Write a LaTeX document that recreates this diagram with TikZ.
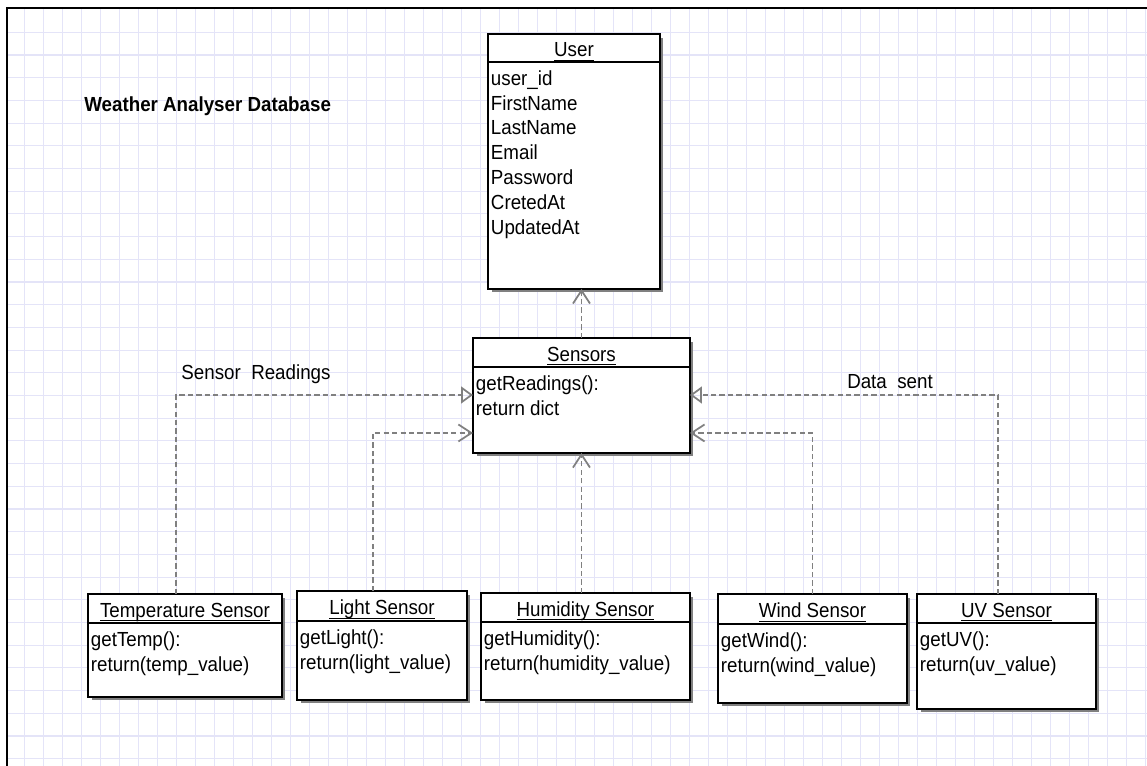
\documentclass[tikz,border=0pt]{standalone}
\usepackage{amsmath}
\usepackage{fontspec}
\setmainfont{Liberation Sans}[FakeStretch=0.92]
\usetikzlibrary{arrows.meta,positioning,calc,shadows}
\definecolor{GridLav}{HTML}{E4E4F8}
\definecolor{LinkGray}{HTML}{808080}
\newcommand{\diafont}{\fontsize{11.6}{14.2}\selectfont}
\newcommand{\clsname}[1]{\underline{\smash[b]{#1}}}
\tikzset{
  hdr/.style={draw=black, line width=1.2pt, fill=white, anchor=north west, inner sep=0pt, outer sep=0pt,
    text height=0.36cm, text depth=0pt, font=\diafont,
    general shadow={fill=black!50, shadow xshift=2pt, shadow yshift=-2pt}},
  bodybox/.style={draw=black, line width=1.2pt, fill=white, inner sep=0pt, outer sep=0pt,
    general shadow={fill=black!50, shadow xshift=2pt, shadow yshift=-2pt}},
  attrs/.style={anchor=north west, align=left, inner xsep=1.5pt, inner ysep=3pt, font=\diafont},
  lbl/.style={font=\diafont, inner sep=0pt},
  gridline/.style={draw=GridLav, line width=0.6pt},
  depends/.style={draw=LinkGray, line width=1pt, dash pattern=on 3pt off 1.8pt, -{Straight Barb[length=2.6mm, width=3.4mm]}},
  realizes/.style={draw=LinkGray, line width=1pt, dash pattern=on 3pt off 1.8pt, -{Triangle[open, length=2.4mm, width=3.4mm]}}
}

\begin{document}
\begin{tikzpicture}[x=0.02cm, y=-0.02cm]
\useasboundingbox (0,0) rectangle (1147,766);
\fill[white] (0,0) rectangle (1147,766);
% grid paper
\foreach \gx in {24.3,43.3,...,1147} \draw[gridline] (\gx,8) -- (\gx,766);
\foreach \gy in {32.3,55,...,766} \draw[gridline] (7,\gy) -- (1147,\gy);
\draw[line width=1.2pt] (7,766) -- (7,8) -- (1147,8);

\node[font=\diafont\bfseries, anchor=west, inner sep=0pt] (title) at (84,106) {Weather Analyser Database};

% user table
\node[hdr, minimum width=3.44cm, minimum height=0.56cm] (user) at (488,34) {\clsname{User}};
\node[bodybox, minimum width=3.44cm, minimum height=4.54cm, below=0pt of user,
  label={[attrs]north west:\strut user\_id\\FirstName\\LastName\\Email\\Password\\CretedAt\\UpdatedAt}] (userattr) {};

% sensors base class
\node[hdr, minimum width=4.34cm, minimum height=0.58cm] (sens) at (473,338) {\clsname{Sensors}};
\node[bodybox, minimum width=4.34cm, minimum height=1.72cm, below=0pt of sens,
  label={[attrs]north west:\strut getReadings():\\return dict}] (sensattr) {};

% the sensors
\node[hdr, minimum width=3.88cm, minimum height=0.58cm] (temp) at (88,594) {\clsname{Temperature Sensor}};
\node[bodybox, minimum width=3.88cm, minimum height=1.48cm, below=0pt of temp,
  label={[attrs]north west:\strut getTemp():\\return(temp\_value)}] (tempattr) {};

\node[hdr, minimum width=3.40cm, minimum height=0.60cm] (light) at (297,591) {\clsname{Light Sensor}};
\node[bodybox, minimum width=3.40cm, minimum height=1.58cm, below=0pt of light,
  label={[attrs]north west:\strut getLight():\\return(light\_value)}] (lightattr) {};

\node[hdr, minimum width=4.18cm, minimum height=0.58cm] (hum) at (481,593) {\clsname{Humidity Sensor}};
\node[bodybox, minimum width=4.18cm, minimum height=1.56cm, below=0pt of hum,
  label={[attrs]north west:\strut getHumidity():\\return(humidity\_value)}] (humattr) {};

\node[hdr, minimum width=3.78cm, minimum height=0.60cm] (wind) at (718,594) {\clsname{Wind Sensor}};
\node[bodybox, minimum width=3.78cm, minimum height=1.58cm, below=0pt of wind,
  label={[attrs]north west:\strut getWind():\\return(wind\_value)}] (windattr) {};

\node[hdr, minimum width=3.58cm, minimum height=0.58cm] (uv) at (917,594) {\clsname{UV Sensor}};
\node[bodybox, minimum width=3.58cm, minimum height=1.72cm, below=0pt of uv,
  label={[attrs]north west:\strut getUV():\\return(uv\_value)}] (uvattr) {};

% links
\draw[depends] (sens.north) -- (sens.north |- userattr.south);
\draw[realizes] ([xshift=-0.18cm]temp.north) |- ([yshift=0.3cm]sensattr.west);
\draw[depends] ([xshift=-0.18cm]light.north) |- ([yshift=-0.46cm]sensattr.west);
\draw[depends] (hum.north -| sensattr.south) -- (sensattr.south);
\draw[depends] (wind.north) |- ([yshift=-0.46cm]sensattr.east);
\draw[realizes] ([xshift=-0.17cm]uv.north) |- ([yshift=0.3cm]sensattr.east);

\node[lbl] (readlbl) at (256,374) {Sensor\ \ Readings};
\node[lbl] (sentlbl) at (890,382) {Data\ \ sent};
\end{tikzpicture}
\end{document}
